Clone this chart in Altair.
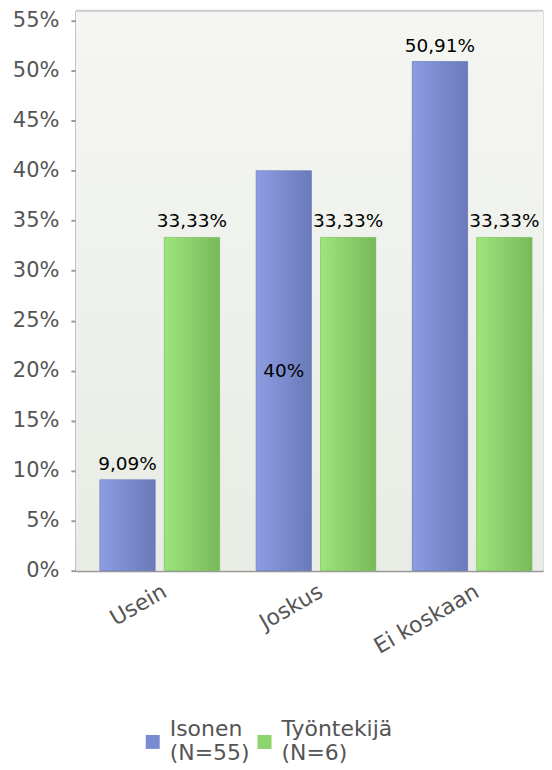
import altair as alt
import pandas as pd

categories = ["Usein", "Joskus", "Ei koskaan"]
series = ["Isonen (N=55)", "Työntekijä (N=6)"]
isonen_values = [9.09, 40.0, 50.91]
tyontekija_values = [33.33, 33.33, 33.33]
isonen_labels = ["9,09%", "40%", "50,91%"]
tyontekija_labels = ["33,33%", "33,33%", "33,33%"]
y_ticks = [0, 5, 10, 15, 20, 25, 30, 35, 40, 45, 50, 55]
y_max = 56

rows = []
for c, v, l in zip(categories, isonen_values, isonen_labels):
    rows.append({"category": c, "series": series[0], "value": v, "label": l})
for c, v, l in zip(categories, tyontekija_values, tyontekija_labels):
    rows.append({"category": c, "series": series[1], "value": v, "label": l})
df = pd.DataFrame(rows)

FONT = "DejaVu Sans"
blue_solid = "#7b8bd2"
green_solid = "#8cd46c"

blue_grad = alt.LinearGradient(
    gradient="linear", x1=0, x2=1, y1=0, y2=0,
    stops=[alt.GradientStop(color="#8c9de2", offset=0),
           alt.GradientStop(color="#6a79b9", offset=1)])
green_grad = alt.LinearGradient(
    gradient="linear", x1=0, x2=1, y1=0, y2=0,
    stops=[alt.GradientStop(color="#9de57c", offset=0),
           alt.GradientStop(color="#78b95b", offset=1)])
bg_grad = alt.LinearGradient(
    gradient="linear", x1=0, x2=0, y1=0, y2=1,
    stops=[alt.GradientStop(color="#f5f6f3", offset=0),
           alt.GradientStop(color="#e8ece4", offset=1)])

y_scale = alt.Scale(domain=[0, y_max], nice=False)

x_enc = alt.X("category:N", sort=categories,
              scale=alt.Scale(paddingInner=0.233, paddingOuter=0.1117, align=0.686),
              axis=alt.Axis(title=None, labelAngle=-30, labelAlign="right",
                            labelBaseline="top", labelOffset=0, labelPadding=10,
                            ticks=False, domainColor="#9a9a9a", domainWidth=2,
                            labelColor="#555555", labelFontSize=22, labelFont=FONT))
xoff = alt.XOffset("series:N", sort=series,
                   scale=alt.Scale(paddingInner=0.14, paddingOuter=0))
y_enc = alt.Y("value:Q", scale=y_scale,
              axis=alt.Axis(title=None, values=y_ticks,
                            labelExpr="datum.value + '%'",
                            domainColor="#9a9a9a", domainWidth=2,
                            tickColor="#9a9a9a", tickSize=5, tickWidth=2,
                            gridColor="#e2e5df", gridWidth=2,
                            labelColor="#555555", labelFontSize=21,
                            labelFont=FONT, labelPadding=12))

base = alt.Chart(df)

bg = alt.Chart(pd.DataFrame({"lo": [0], "hi": [y_max]})).mark_rect(fill=bg_grad).encode(
    y=alt.Y("lo:Q", scale=y_scale), y2="hi:Q")

bars_legend = base.mark_bar().encode(
    x=x_enc, xOffset=xoff, y=y_enc,
    color=alt.Color("series:N", sort=series,
                    scale=alt.Scale(domain=series, range=[blue_solid, green_solid]),
                    legend=alt.Legend(title=None, orient="none", direction="horizontal",
                                      legendX=66, legendY=709,
                                      symbolType="M-1,0.8H1V2.8H-1Z", symbolSize=196,
                                      symbolStrokeWidth=0,
                                      labelExpr="split(datum.label, ' ')",
                                      labelFontSize=22, labelFont=FONT,
                                      labelColor="#555555", labelLimit=200,
                                      columnPadding=3, symbolOffset=0,
                                      labelOffset=6, labelBaseline="middle")),
)

bars_blue = base.transform_filter(alt.datum.series == series[0]).mark_bar(
    fill=blue_grad, stroke="#6a79b9", strokeWidth=0.5).encode(x=x_enc, xOffset=xoff, y=y_enc)
bars_green = base.transform_filter(alt.datum.series == series[1]).mark_bar(
    fill=green_grad, stroke="#78b95b", strokeWidth=0.5).encode(x=x_enc, xOffset=xoff, y=y_enc)

labels_above = base.transform_filter("datum.value != 40").mark_text(
    baseline="bottom", dy=-6, fontSize=18.5, font=FONT, color="#000000").encode(
    x=x_enc, xOffset=xoff,
    y=alt.Y("value:Q", scale=y_scale),
    text="label:N")

labels_inside = base.transform_filter("datum.value == 40").transform_calculate(
    mid="datum.value / 2"
).mark_text(baseline="middle", fontSize=18.5, font=FONT, color="#000000").encode(
    x=x_enc, xOffset=xoff,
    y=alt.Y("mid:Q", scale=y_scale),
    text="label:N")

top_rule = alt.Chart(pd.DataFrame({"v": [y_max]})).mark_rule(
    color="#cccccc", strokeWidth=2).encode(y=alt.Y("v:Q", scale=y_scale))

chart = alt.layer(bg, bars_legend, bars_blue, bars_green, labels_above, labels_inside,
                  top_rule).properties(
    width=468, height=561,
    padding={"left": 4, "top": 1, "right": 0, "bottom": 0},
).configure_view(stroke=None).configure(background="white")

chart.save("out.html", embed_options={"renderer": "svg", "actions": False})
